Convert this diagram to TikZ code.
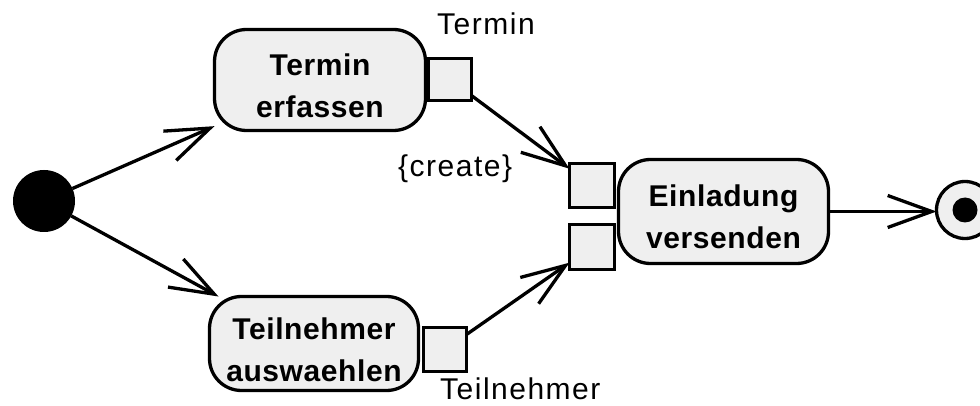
\documentclass[tikz,border=0pt]{standalone}
\usepackage{fontspec}
\setmainfont{Liberation Sans}
\newfontfamily\lblfont[LetterSpace=5]{Liberation Sans}
\newfontfamily\actfont[LetterSpace=2]{Liberation Sans}
\usetikzlibrary{arrows.meta}
\definecolor{pinfill}{RGB}{239,239,239}
\tikzset{
  flow/.style={line width=3.3pt, -{Straight Barb[length=44pt,width=32pt]}},
  action/.style={draw, line width=3.3pt, fill=pinfill, rounded corners=32pt,
    inner sep=0pt, outer sep=0pt},
  actiontext/.style={inner sep=0pt, align=center,
    font=\actfont\bfseries\fontsize{30}{42}\selectfont},
  pin/.style={draw, line width=3.3pt, fill=pinfill, inner sep=0pt, outer sep=0pt},
  pinlabel/.style={inner sep=0pt, anchor=base west,
    font=\lblfont\fontsize{30}{36}\selectfont},
}
\begin{document}
\begin{tikzpicture}[x=1pt, y=-1pt]
\useasboundingbox (0,0) rectangle (980,406);

% start and end of the activity
\node[circle, fill=black, minimum size=62pt, inner sep=0pt, outer sep=0pt] (init) at (44,201) {};
\node[circle, draw, line width=3.3pt, fill=pinfill, minimum size=57pt, inner sep=0pt, outer sep=0pt] (fin) at (965,210) {};
\node[circle, fill=black, minimum size=25pt, inner sep=0pt] (findot) at (965,210) {};

% actions
\node[action, minimum width=211pt, minimum height=101pt] (te) at (320,80) {};
\node[actiontext] (te-txt) at (320,86) {Termin\\erfassen};

\node[action, minimum width=209pt, minimum height=94pt] (ta) at (314,343.5) {};
\node[actiontext] (ta-txt) at (314,350) {Teilnehmer\\auswaehlen};

\node[action, minimum width=210pt, minimum height=104pt] (ev) at (723.5,211.5) {};
\node[actiontext] (ev-txt) at (723.5,216.5) {Einladung\\versenden};

% pins
\node[pin, minimum width=43pt, minimum height=42pt] (tp) at (450,79.5) {};
\node[pin, minimum width=43pt, minimum height=44pt] (tap) at (445,349.5) {};
\node[pin, minimum width=45pt, minimum height=44pt] (ep1) at (592,185.5) {};
\node[pin, minimum width=45pt, minimum height=45pt] (ep2) at (592,247) {};

% pin labels
\node[pinlabel] (lbl-termin) at (437,35) {Termin};
\node[pinlabel] (lbl-create) at (398,177) {\{create\}};
\node[pinlabel] (lbl-teiln) at (440,399) {Teilnehmer};

% flows
\draw[flow] (init) -- (te);
\draw[flow] (init) -- ([xshift=9pt]ta.north west);
\draw[flow] (tp) -- (ep1);
\draw[flow] (tap) -- (ep2);
\draw[flow] (ev.east) -- (ev.east -| fin.west);
\end{tikzpicture}
\end{document}
